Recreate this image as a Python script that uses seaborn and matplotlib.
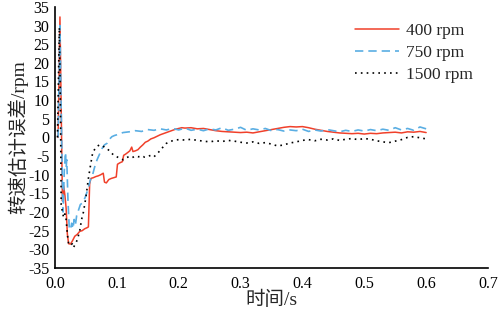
import numpy as np
import pandas as pd
import seaborn as sns
import matplotlib.pyplot as plt

# time axis of the long steady part, 0.01 s steps
t_tail = [round(0.21 + 0.01 * i, 2) for i in range(40)]

t_400 = [0.005, 0.008, 0.010, 0.012, 0.014, 0.016, 0.018, 0.020, 0.022, 0.025,
         0.028, 0.032, 0.036, 0.040, 0.044, 0.048, 0.052, 0.054, 0.056, 0.058,
         0.062, 0.066, 0.070, 0.074, 0.078, 0.080, 0.083, 0.087, 0.091, 0.095,
         0.099, 0.101, 0.105, 0.109, 0.111, 0.114, 0.118, 0.121, 0.124, 0.126,
         0.130, 0.134, 0.138, 0.142, 0.146, 0.150, 0.155, 0.160, 0.165, 0.170,
         0.175, 0.180, 0.185, 0.190, 0.195, 0.200, 0.205] + t_tail
v_400 = [0, 32.3, 8, -17, -13, -15.5, -19, -26, -28.5, -28.6,
         -27.8, -26.5, -26, -25.2, -25, -24.5, -24.2, -24, -12.5, -11,
         -10.8, -10.5, -10.3, -10, -9.6, -12, -12.2, -11.3, -11, -10.8,
         -10.6, -7.2, -6.8, -6.5, -4.8, -4.5, -4, -3.6, -2.6, -3.8,
         -3.6, -3.3, -2.6, -2, -1.3, -1.0, -0.4, -0.1, 0.3, 0.7,
         1.0, 1.3, 1.6, 1.9, 2.2, 2.4, 2.6,
         2.5, 2.6, 2.3, 2.4, 2.1, 1.8, 1.6, 1.5, 1.4, 1.3,
         1.4, 1.2, 1.5, 1.8, 2.1, 2.4, 2.7, 2.9, 2.8, 2.9,
         2.6, 2.2, 1.9, 1.6, 1.4, 1.2, 1.1, 1.0, 1.1, 0.9,
         1.1, 1.0, 1.2, 1.3, 1.4, 1.2, 1.5, 1.4, 1.6, 1.3]

t_750 = [0.005, 0.008, 0.010, 0.012, 0.013, 0.015, 0.017, 0.018, 0.019, 0.021,
         0.023, 0.025, 0.027, 0.029, 0.031, 0.033, 0.035, 0.038, 0.041, 0.045,
         0.049, 0.053, 0.057, 0.060, 0.064, 0.068, 0.072, 0.076, 0.080, 0.084,
         0.088, 0.092, 0.096, 0.100, 0.105, 0.110, 0.120, 0.130, 0.140, 0.150,
         0.160, 0.170, 0.180, 0.190, 0.200] + t_tail
v_750 = [0, 30, 8, -14, -20, -9, -4, -8, -6, -17,
         -24, -24.8, -23, -24.5, -22, -23.5, -21, -19.5, -18, -17.5,
         -16, -14, -11.5, -10.5, -8, -6, -4.5, -3, -2, -1.6,
         -0.5, 0.2, 0.5, 0.7, 1.0, 1.3, 1.5, 1.8, 1.6, 2.1,
         1.9, 2.3, 2.0, 2.4, 2.0,
         2.5, 1.9, 2.2, 1.8, 2.3, 2.0, 2.6, 1.9, 2.2, 2.7,
         1.9, 2.3, 2.0, 2.4, 1.8, 2.1, 1.7, 2.0, 1.8, 2.2,
         1.6, 2.0, 1.7, 2.1, 1.8, 1.5, 1.9, 1.6, 2.0, 1.7,
         2.1, 1.8, 2.2, 1.9, 2.6, 2.0, 2.4, 1.9, 2.8, 2.3]

t_1500 = [0.004, 0.007, 0.009, 0.010, 0.012, 0.014, 0.016, 0.018, 0.020, 0.022,
          0.025, 0.028, 0.030, 0.033, 0.036, 0.040, 0.043, 0.046, 0.050, 0.054,
          0.057, 0.061, 0.065, 0.069, 0.072, 0.076, 0.080, 0.084, 0.088, 0.092,
          0.096, 0.100, 0.105, 0.110, 0.115, 0.120, 0.125, 0.130, 0.135, 0.140,
          0.145, 0.150, 0.155, 0.160, 0.165, 0.170, 0.175, 0.180, 0.185, 0.190,
          0.195, 0.200] + t_tail
v_1500 = [0, 29.5, 5, -18, -20, -21.5, -20.5, -22, -26, -28.5,
          -29, -28.5, -29.5, -28.5, -27.5, -25, -22, -20, -16, -11,
          -7.9, -4, -3, -2.3, -2, -2.2, -2.6, -3, -3.6, -4.3,
          -4.9, -5.2, -5.6, -6, -5.5, -5.1, -5.4, -5.0, -5.2, -4.9,
          -5.3, -5.1, -4.8, -5.2, -4.4, -3.5, -2.5, -1.6, -1.2, -0.9,
          -0.7, -0.6,
          -0.7, -0.5, -0.8, -1.0, -1.2, -0.9, -1.1, -0.8, -1.0, -1.3,
          -1.5, -1.2, -1.6, -1.4, -1.8, -2.3, -2.0, -1.5, -1.2, -0.8,
          -0.6, -0.9, -0.5, -0.7, -0.4, -0.8, -0.5, -0.3, -0.6, -0.3,
          -0.5, -0.9, -1.2, -1.4, -1.0, -0.6, 0.0, 0.2, -0.1, -0.4]

labels = ["400 rpm", "750 rpm", "1500 rpm"]
x_ticks = [0.0, 0.1, 0.2, 0.3, 0.4, 0.5, 0.6, 0.7]
y_ticks = list(range(-35, 40, 5))

sns.set_style("white")
plt.rcParams["font.family"] = ["Liberation Serif", "Noto Sans CJK SC"]
plt.rcParams["axes.unicode_minus"] = False

fig = plt.figure(figsize=(5, 3.13), dpi=100)
ax = fig.add_axes([0.11, 0.144, 0.866, 0.834])

sns.lineplot(x=t_400, y=v_400, ax=ax, color="#F0402A", lw=1.1,
             sort=False, estimator=None, label=labels[0])
sns.lineplot(x=t_750, y=v_750, ax=ax, color="#5AAEE3", lw=1.2,
             sort=False, estimator=None, label=labels[1], dashes=False)
sns.lineplot(x=t_1500, y=v_1500, ax=ax, color="black", lw=1.2,
             sort=False, estimator=None, label=labels[2])
ax.lines[1].set_dashes((5, 3))
ax.lines[2].set_dashes((1, 2.5))

ax.set_xlim(0, 0.7)
ax.set_ylim(-35, 35)
ax.set_xticks(x_ticks)
ax.set_xticklabels([f"{v:.1f}" for v in x_ticks])
ax.set_yticks(y_ticks)
ax.tick_params(direction="in", length=4.5, width=1.1, labelsize=11.5,
               colors="black")
ax.tick_params(axis="x", pad=6)
ax.tick_params(axis="y", pad=4)
for s in ["top", "right"]:
    ax.spines[s].set_visible(False)
for s in ["left", "bottom"]:
    ax.spines[s].set_color("black")
    ax.spines[s].set_linewidth(1.2)

ax.set_xlabel("时间/s", fontsize=14, labelpad=-1)
ax.set_ylabel("转速估计误差/rpm", fontsize=14, labelpad=0)

leg = ax.legend(loc="upper right", frameon=False, fontsize=12.5,
                handlelength=2.5, handletextpad=0.4,
                bbox_to_anchor=(1.0, 1.0), labelspacing=0.35)
leg.get_lines()[1].set_dashes((5, 3))
leg.get_lines()[2].set_dashes((1, 2.5))

fig.savefig("out.png", dpi=100, facecolor="white")
